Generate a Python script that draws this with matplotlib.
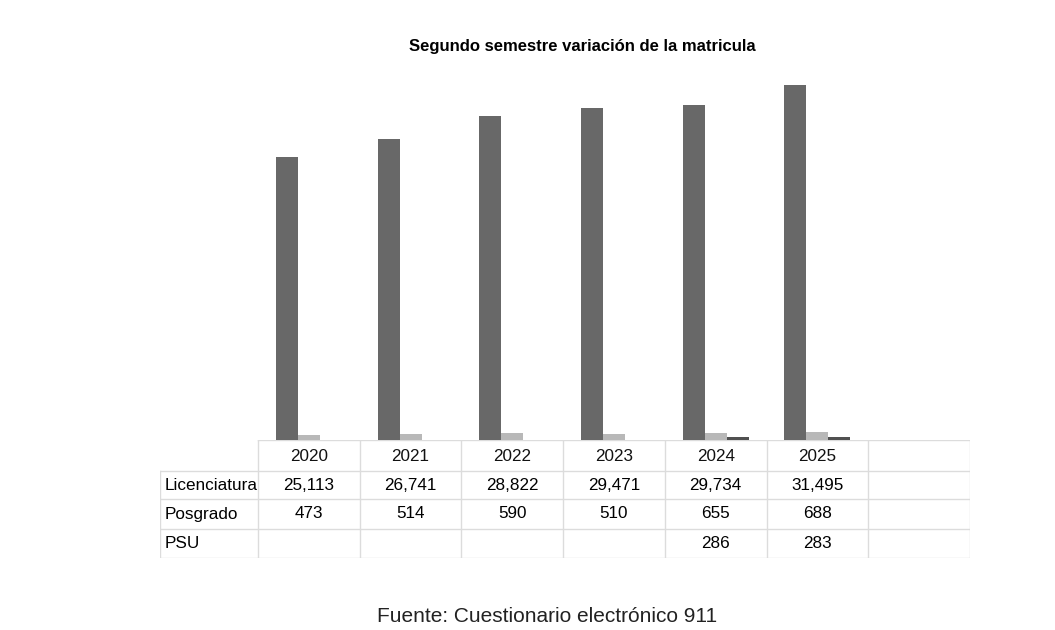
import matplotlib
matplotlib.use("Agg")
import matplotlib.pyplot as plt
import numpy as np

years = ["2020", "2021", "2022", "2023", "2024", "2025"]
licenciatura = [25113, 26741, 28822, 29471, 29734, 31495]
posgrado = [473, 514, 590, 510, 655, 688]
psu = [None, None, None, None, 286, 283]
series_names = ["Licenciatura", "Posgrado", "PSU"]
title = "Segundo semestre variación de la matricula"
source = "Fuente: Cuestionario electrónico 911"

colors = ["#686868", "#b8b8b8", "#505050"]
FONT = ["Liberation Sans", "DejaVu Sans"]

W, H = 1055, 630
fig = plt.figure(figsize=(W / 100, H / 100), dpi=100)
fig.patch.set_facecolor("white")

# main bar axes (pixel layout)
ax_l, ax_r, ax_b, ax_t = 258, 970, 440, 46
ax = fig.add_axes([ax_l / W, (H - ax_b) / H, (ax_r - ax_l) / W, (ax_b - ax_t) / H])
ncols = len(years) + 1
x = np.arange(len(years))
bw = 0.216
series = [licenciatura, posgrado, psu]
for i, (vals, c) in enumerate(zip(series, colors)):
    v = [np.nan if s is None else s for s in vals]
    ax.bar(x + (i - 1) * bw, v, width=bw, color=c, edgecolor="none")
ax.set_xlim(-0.5, ncols - 0.5)
ax.set_ylim(0, 35000)
ax.axis("off")

# data table
col_w_px = (ax_r - ax_l) / ncols
lab_l = 160
tb_b = 558
tab = fig.add_axes([lab_l / W, (H - tb_b) / H, (ax_r - lab_l) / W, (tb_b - ax_b) / H])
xl = -0.5 - (ax_l - lab_l) / col_w_px
tab.set_xlim(xl, ncols - 0.5)
tab.set_ylim(tb_b - ax_b, 0)
tab.axis("off")
row_lines = [0, 31, 59, 89, 118]
gc = "#dcdcdc"
tab.plot([-0.5, ncols - 0.5], [row_lines[0]] * 2, color=gc, lw=1)
for yl in row_lines[1:]:
    tab.plot([xl, ncols - 0.5], [yl, yl], color=gc, lw=1)
tab.plot([xl, xl], [row_lines[1], row_lines[-1]], color=gc, lw=1)
for k in range(ncols + 1):
    tab.plot([k - 0.5, k - 0.5], [row_lines[0], row_lines[-1]], color=gc, lw=1)

fs = 12.3
for j, yr in enumerate(years):
    tab.text(j, (row_lines[0] + row_lines[1]) / 2 + 1, yr, ha="center", va="center",
             fontsize=fs, family=FONT, color="#111111")
for r, (name, vals) in enumerate(zip(series_names, series)):
    yc = (row_lines[r + 1] + row_lines[r + 2]) / 2
    tab.text(xl + 0.05, yc, name, ha="left", va="center", fontsize=fs,
             family=FONT, color="#000000")
    for j, v in enumerate(vals):
        if v is None:
            continue
        tab.text(j, yc, f"{v:,}", ha="center", va="center", fontsize=fs,
                 family=FONT, color="#000000")

fig.text(582 / W, 1 - 47 / H, title, ha="center", va="center", fontsize=12,
         fontweight="bold", family=FONT, color="#000000")
fig.text(547 / W, 1 - 616 / H, source, ha="center", va="center", fontsize=15,
         family=FONT, color="#222222")

fig.savefig("out.png", dpi=100, facecolor="white")
